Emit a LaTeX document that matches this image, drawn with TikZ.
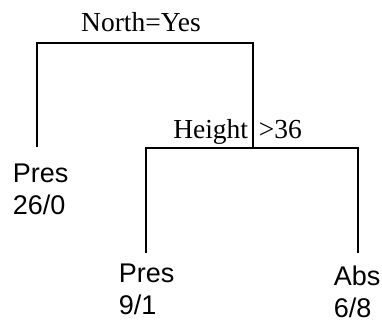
\documentclass[tikz,border=0pt]{standalone}
\usepackage{fontspec}
\setmainfont{Liberation Serif}
\newfontfamily\leaffont{Liberation Sans}
\usepackage{tikz}

\begin{document}
\begin{tikzpicture}[x=1pt,y=-1pt,line width=1.8pt,
  split/.style={font=\fontsize{27.5}{32}\selectfont,inner sep=0pt},
  leaf/.style={font=\leaffont\fontsize{27}{32}\selectfont,align=left,inner sep=0pt,anchor=base west}]
\useasboundingbox (0,0) rectangle (382,323);
\node[split,anchor=base] (NORTH) at (141,32) {North=Yes};
\node[split,anchor=base east] (HEIGHT) at (249,139) {Height};
\node[split,anchor=base west] (GT) at (258,139) {>36};
\node[leaf] (PRESA) at (12,214) {Pres\\26/0};
\node[leaf] (PRESB) at (118,314) {Pres\\9/1};
\node[leaf] (ABS) at (333,317) {Abs\\6/8};
\coordinate (NL) at (37,43);
\coordinate (NR) at (253,43);
\coordinate (NA) at (37,147);
\coordinate (HL) at (146,148);
\coordinate (HR) at (358,148);
\coordinate (HA) at (146,253);
\coordinate (HB) at (358,253);
\draw (NA) -- (NL) -- (NR) -- (HR -| NR);
\draw (HA) -- (HL) -- (HR) -- (HB);
\end{tikzpicture}
\end{document}
